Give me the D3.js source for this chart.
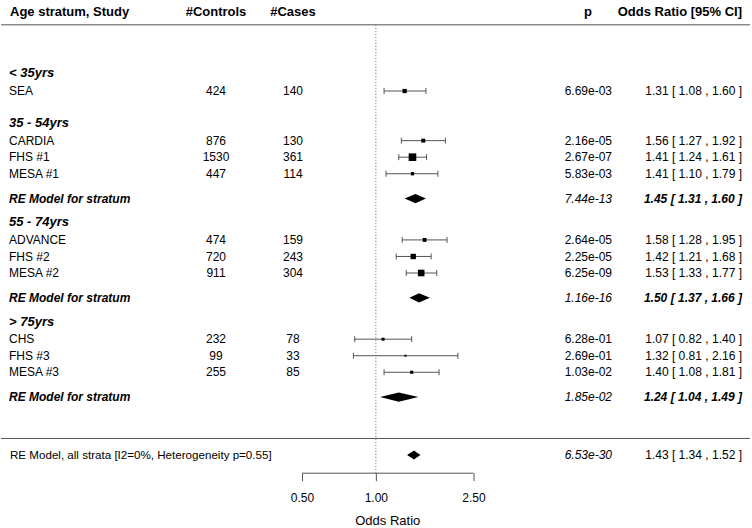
<!DOCTYPE html>
<html>
<head>
<meta charset="utf-8">
<script src="https://cdn.jsdelivr.net/npm/d3@7"></script>
<style>
  html, body { margin: 0; padding: 0; background: #fff; }
  svg { display: block; font-family: "Liberation Sans", Arial, Helvetica, sans-serif; }
</style>
</head>
<body>
<svg id="chart" width="752" height="528"></svg>
<script>
// age strata and studies
const strata = ['< 35yrs', '35 - 54yrs', '55 - 74yrs', '> 75yrs']
const studies = ['SEA', 'CARDIA', 'FHS #1', 'MESA #1', 'ADVANCE', 'FHS #2', 'MESA #2', 'CHS', 'FHS #3', 'MESA #3']
const studyStratum = [0, 1, 1, 1, 2, 2, 2, 3, 3, 3]
const controls = [424, 876, 1530, 447, 474, 720, 911, 232, 99, 255]
const cases = [140, 130, 361, 114, 159, 243, 304, 78, 33, 85]
const pValues = ['6.69e-03', '2.16e-05', '2.67e-07', '5.83e-03', '2.64e-05', '2.25e-05', '6.25e-09', '6.28e-01', '2.69e-01', '1.03e-02']
const oddsRatio = [1.31, 1.56, 1.41, 1.41, 1.58, 1.42, 1.53, 1.07, 1.32, 1.40]
const ciLow = [1.08, 1.27, 1.24, 1.10, 1.28, 1.21, 1.33, 0.82, 0.81, 1.08]
const ciHigh = [1.60, 1.92, 1.61, 1.79, 1.95, 1.68, 1.77, 1.40, 2.16, 1.81]

// random-effects summary per stratum (strata with more than one study)
const reStrata = [1, 2, 3]
const reP = ['7.44e-13', '1.16e-16', '1.85e-02']
const reOR = [1.45, 1.50, 1.24]
const reLow = [1.31, 1.37, 1.04]
const reHigh = [1.60, 1.66, 1.49]

// overall model
const overallLabel = 'RE Model, all strata [I2=0%, Heterogeneity p=0.55]'
const overallP = '6.53e-30'
const overallOR = 1.43
const overallLow = 1.34
const overallHigh = 1.52

const axisTicks = [0.5, 1, 2.5]

const svg = d3.select('#chart')

const fmt = d3.format('.2f')
const orText = (m, l, h) => `${fmt(m)} [ ${fmt(l)} , ${fmt(h)} ]`

// row slots: heading, studies, optional summary, gap
const rows = []
let slot = 0
strata.forEach((name, s) => {
  rows.push({ kind: 'heading', slot: slot - 1.1, label: name })
  const idx = studies.map((_, i) => i).filter(i => studyStratum[i] === s)
  idx.forEach((i, k) => rows.push({ kind: 'study', slot: slot + k, i }))
  const last = slot + idx.length - 1
  const r = reStrata.indexOf(s)
  if (r >= 0) {
    rows.push({ kind: 'summary', slot: last + 1.5, r })
    slot = last + 4
  } else {
    slot = last + 3
  }
})
const overallSlot = 22

const y = d3.scaleLinear().domain([0, overallSlot]).range([91, 455])
const x = d3.scaleLog().domain([0.5, 2.5]).range([302, 473.5])

// study weights from CI width -> square size
const weights = studies.map((_, i) => {
  const se = (Math.log(ciHigh[i]) - Math.log(ciLow[i])) / 3.92
  return 1 / (se * se)
})
const size = d3.scaleLinear().domain(d3.extent(weights)).range([2, 7.6])

const colName = 9, colControls = 216, colCases = 293, colP = 612, colOR = 742
const lineColor = '#555'

// header
const header = svg.append('g').attr('font-size', 13).attr('font-weight', 'bold')
header.append('text').attr('x', colName + 1).attr('y', y(-4.8)).attr('dy', '0.35em').text('Age stratum, Study')
header.append('text').attr('x', colControls).attr('y', y(-4.8)).attr('dy', '0.35em').attr('text-anchor', 'middle').text('#Controls')
header.append('text').attr('x', colCases).attr('y', y(-4.8)).attr('dy', '0.35em').attr('text-anchor', 'middle').text('#Cases')
header.append('text').attr('x', 588).attr('y', y(-4.8)).attr('dy', '0.35em').attr('text-anchor', 'middle').text('p')
header.append('text').attr('x', colOR).attr('y', y(-4.8)).attr('dy', '0.35em').attr('text-anchor', 'end').text('Odds Ratio [95% CI]')

svg.append('line').attr('x1', 1).attr('x2', 750).attr('y1', y(-4)).attr('y2', y(-4))
  .attr('stroke', lineColor).attr('stroke-width', 1)
svg.append('line').attr('x1', 1).attr('x2', 750).attr('y1', y(21)).attr('y2', y(21))
  .attr('stroke', lineColor).attr('stroke-width', 1)

// reference line at OR = 1
svg.append('line').attr('x1', x(1)).attr('x2', x(1)).attr('y1', y(-4)).attr('y2', y(23.1))
  .attr('stroke', '#666').attr('stroke-dasharray', '1,2').attr('stroke-width', 1)

const body = svg.append('g').attr('font-size', 12)

function diamond(m, l, h, cy) {
  const hh = 4.6
  body.append('path')
    .attr('d', `M${x(l)},${cy}L${x(m)},${cy - hh}L${x(h)},${cy}L${x(m)},${cy + hh}Z`)
    .attr('fill', '#000')
}

rows.forEach(row => {
  const cy = y(row.slot)
  if (row.kind === 'heading') {
    body.append('text').attr('x', colName).attr('y', cy).attr('dy', '0.35em')
      .attr('font-size', 13).attr('font-weight', 'bold').attr('font-style', 'italic').text(row.label)
  } else if (row.kind === 'study') {
    const i = row.i
    body.append('text').attr('x', colName).attr('y', cy).attr('dy', '0.35em').text(studies[i])
    body.append('text').attr('x', colControls).attr('y', cy).attr('dy', '0.35em').attr('text-anchor', 'middle').text(controls[i])
    body.append('text').attr('x', colCases).attr('y', cy).attr('dy', '0.35em').attr('text-anchor', 'middle').text(cases[i])
    body.append('text').attr('x', colP).attr('y', cy).attr('dy', '0.35em').attr('text-anchor', 'end').text(pValues[i])
    body.append('text').attr('x', colOR).attr('y', cy).attr('dy', '0.35em').attr('text-anchor', 'end')
      .text(orText(oddsRatio[i], ciLow[i], ciHigh[i]))

    const g = body.append('g').attr('stroke', lineColor).attr('stroke-width', 1)
    g.append('line').attr('x1', x(ciLow[i])).attr('x2', x(ciHigh[i])).attr('y1', cy).attr('y2', cy)
    g.append('line').attr('x1', x(ciLow[i])).attr('x2', x(ciLow[i])).attr('y1', cy - 3).attr('y2', cy + 3)
    g.append('line').attr('x1', x(ciHigh[i])).attr('x2', x(ciHigh[i])).attr('y1', cy - 3).attr('y2', cy + 3)
    const s = size(weights[i])
    body.append('rect').attr('x', x(oddsRatio[i]) - s / 2).attr('y', cy - s / 2)
      .attr('width', s).attr('height', s).attr('fill', '#000')
  } else {
    const r = row.r
    body.append('text').attr('x', colName).attr('y', cy).attr('dy', '0.35em')
      .attr('font-weight', 'bold').attr('font-style', 'italic').text('RE Model for stratum')
    body.append('text').attr('x', colP).attr('y', cy).attr('dy', '0.35em').attr('text-anchor', 'end')
      .attr('font-style', 'italic').text(reP[r])
    body.append('text').attr('x', colOR).attr('y', cy).attr('dy', '0.35em').attr('text-anchor', 'end')
      .attr('font-weight', 'bold').attr('font-style', 'italic').text(orText(reOR[r], reLow[r], reHigh[r]))
    diamond(reOR[r], reLow[r], reHigh[r], cy)
  }
})

// overall
const oy = y(overallSlot)
body.append('text').attr('x', colName + 1).attr('y', oy).attr('dy', '0.35em')
  .attr('font-size', 11.6).text(overallLabel)
body.append('text').attr('x', colP).attr('y', oy).attr('dy', '0.35em').attr('text-anchor', 'end')
  .attr('font-style', 'italic').text(overallP)
body.append('text').attr('x', colOR).attr('y', oy).attr('dy', '0.35em').attr('text-anchor', 'end')
  .text(orText(overallOR, overallLow, overallHigh))
diamond(overallOR, overallLow, overallHigh, oy)

// x axis
const axisY = y(23.1)
const axis = svg.append('g').attr('transform', `translate(0,${axisY})`)
  .call(d3.axisBottom(x).tickValues(axisTicks).tickFormat(fmt).tickSize(8).tickPadding(12))
axis.attr('font-family', null)
axis.select('.domain').attr('d', `M${x(0.5)},0H${x(2.5)}`).attr('stroke', lineColor)
axis.selectAll('.tick line').attr('stroke', lineColor)
axis.selectAll('.tick text').attr('font-size', 12).attr('fill', '#000')

// axis title centred on the axis range
svg.append('text').attr('x', (x(0.5) + x(2.5)) / 2).attr('y', 520).attr('dy', '0.35em')
  .attr('text-anchor', 'middle').attr('font-size', 13).text('Odds Ratio')
</script>
</body>
</html>
